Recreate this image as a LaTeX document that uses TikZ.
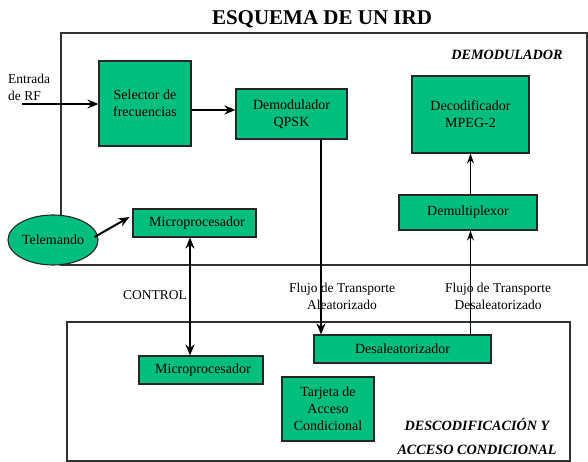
\documentclass[tikz,border=0pt]{standalone}
\usepackage{fontspec}
\setmainfont{Liberation Serif}
\usetikzlibrary{arrows.meta,shapes.geometric,calc}
\definecolor{boxgreen}{RGB}{0,190,125}
\definecolor{frameclr}{RGB}{50,50,50}
\tikzset{
  gbox/.style={draw=black!85,line width=1.1pt,fill=boxgreen,inner sep=0pt,
    align=center,font=\fontsize{14}{17}\selectfont,anchor=center},
  frame/.style={draw=frameclr,line width=1.2pt},
  lbl/.style={inner sep=0pt,align=center,font=\fontsize{13.5}{17}\selectfont},
  seclbl/.style={inner sep=0pt,align=center,font=\fontsize{14.2}{24}\selectfont\bfseries\itshape},
  thickarrow/.style={line width=2pt,-{Stealth[length=11pt,width=9pt]}},
  thinarrow/.style={line width=1pt,-{Stealth[length=10pt,width=7pt]}},
  dblarrow/.style={line width=2pt,{Stealth[length=11pt,width=9pt]}-{Stealth[length=11pt,width=9pt]}}
}
\begin{document}
\begin{tikzpicture}[x=1pt,y=-1pt]
\useasboundingbox[fill=white] (0,0) rectangle (588,462);
% frames
\draw[frame] (61,33) rectangle (587,265);
\draw[frame] (67,322) rectangle (570,461);
% title and section labels
\node[inner sep=0pt,font=\fontsize{21}{24}\selectfont\bfseries] (title) at (322,19) {ESQUEMA DE UN IRD};
\node[seclbl] (demlbl) at (507,55) {DEMODULADOR};
\node[seclbl] (desclbl) at (477,436) {DESCODIFICACIÓN Y\\ACCESO CONDICIONAL};
% free labels
\node[lbl,align=left,anchor=west] (rf) at (8,87.5) {Entrada\\de RF};
\node[lbl] (ctl) at (155,295) {CONTROL};
\node[lbl] (flujo1) at (342,296.5) {Flujo de Transporte\\Aleatorizado};
\node[lbl] (flujo2) at (498,296.5) {Flujo de Transporte\\Desaleatorizado};
% boxes
\node[gbox,minimum width=92pt,minimum height=85pt] (sel) at (145,103.5) {Selector de\\frecuencias};
\node[gbox,minimum width=111pt,minimum height=50pt] (qpsk) at (291.5,114) {Demodulador\\QPSK};
\node[gbox,minimum width=117pt,minimum height=77pt] (dec) at (470.5,114.5) {Decodificador\\MPEG-2};
\node[gbox,minimum width=138pt,minimum height=35pt] (demux) at (468,212.5) {Demultiplexor};
\node[gbox,minimum width=123pt,minimum height=28pt] (micro1) at (194.5,223) {\hspace{5pt}Microprocesador};
\node[gbox,ellipse,minimum width=90pt,minimum height=50pt] (tele) at (53,240) {Telemando};
\node[gbox,minimum width=124pt,minimum height=28pt] (micro2) at (201,370) {\hspace{4pt}Microprocesador};
\node[gbox,minimum width=177pt,minimum height=28pt] (desal) at (402.5,349) {Desaleatorizador};
\node[gbox,minimum width=92pt,minimum height=64pt] (tarj) at (328,409) {Tarjeta de\\Acceso\\Condicional};
% helper coordinates
\coordinate (rfin) at (22,104);
\coordinate (xq) at (321,0);
\coordinate (xd) at (470.5,0);
\coordinate (xc) at (190,0);
% connectors
\draw[thickarrow] (rfin) -- (rfin -| sel.west);
\draw[thickarrow] ([yshift=-6.5pt]sel.east) -- ([yshift=-6.5pt]sel.east -| qpsk.west);
\draw[thickarrow] ($(tele.east)+(-4,-3)$) -- ($(micro1.west)+(-3,-6)$);
\draw[dblarrow] (micro1.south -| xc) -- (micro2.north -| xc);
\draw[thickarrow] (qpsk.south -| xq) -- (desal.north -| xq);
\draw[thinarrow] (desal.north -| xd) -- (demux.south -| xd);
\draw[thinarrow] (demux.north -| xd) -- (dec.south -| xd);
\end{tikzpicture}
\end{document}
